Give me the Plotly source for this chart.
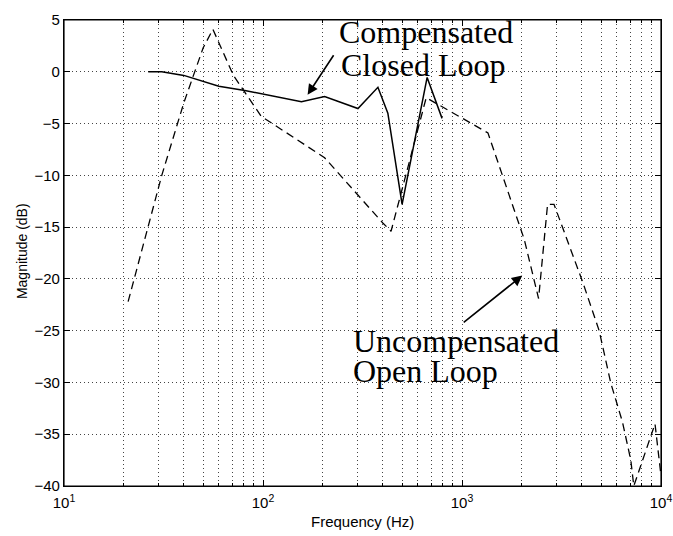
import plotly.graph_objects as go

# Compensated closed loop (solid)
closed_f = [26.5, 31, 40, 60, 81, 156, 204, 300, 378, 424, 500, 668, 794]
closed_db = [0, 0, -0.35, -1.4, -1.8, -2.9, -2.4, -3.55, -1.5, -4.0, -12.8, -0.55, -4.5]

# Uncompensated open loop (dashed)
open_f = [21, 31, 40, 50, 56, 71, 98, 204, 400, 440, 661, 817, 1350, 2056, 2426,
          2692, 2900, 4040, 4890, 5600, 6400, 7050, 7300, 9330, 10000]
open_db = [-22.2, -10, -3.0, 2.3, 4.1, -0.35, -4.3, -8.3, -14.6, -15.4, -2.5, -3.5, -5.9, -16.2, -21.9,
           -12.8, -12.8, -20.3, -25.0, -30.1, -33.8, -37.5, -40, -34, -39]

x_tickvals = [10, 100, 1000, 10000]
x_ticktext = ["10<sup>1</sup>", "10<sup>2</sup>", "10<sup>3</sup>", "10<sup>4</sup>"]
x_minor = [m * d for d in (10, 100, 1000) for m in range(2, 10)]
y_tickvals = [5, 0, -5, -10, -15, -20, -25, -30, -35, -40]

fig = go.Figure()
fig.add_trace(go.Scatter(x=open_f, y=open_db, mode="lines",
                         line=dict(color="black", width=1.3, dash="8px,5px"),
                         showlegend=False))
fig.add_trace(go.Scatter(x=closed_f, y=closed_db, mode="lines",
                         line=dict(color="black", width=1.5),
                         showlegend=False))

W, H = 673, 536
L, R, T, B = 64, 11, 12, 50
pw, ph = W - L - R, H - T - B


def px(xp):
    return (xp - L) / pw


def py(yp):
    return (H - B - yp) / ph


serif = dict(family="Liberation Serif, Times New Roman, serif", size=32, color="black")
texts = [("Compensated", 337, 24), ("Closed Loop", 339, 58),
         ("Uncompensated", 351, 339), ("Open Loop", 351, 369)]
for t, xx, yy in texts:
    fig.add_annotation(text=t, x=px(xx), y=py(yy), xref="paper", yref="paper",
                       xanchor="left", yanchor="middle", showarrow=False, font=serif)

# arrows (tail -> head) in pixel positions of the reference
arrows = [((335, 47), (308, 88)), ((463, 320), (523, 272))]
for (tx, ty), (hx, hy) in arrows:
    fig.add_annotation(x=px(hx), y=py(hy), ax=tx - hx, ay=ty - hy, xref="paper", yref="paper",
                       axref="pixel", ayref="pixel", text="", showarrow=True,
                       arrowhead=2, arrowsize=1.3, arrowwidth=1.6, arrowcolor="black")

axis_font = dict(family="Liberation Sans, Arial, Helvetica, sans-serif", size=15, color="black")
# axis titles
fig.add_annotation(text="Frequency (Hz)", x=px(363), y=py(522), xref="paper", yref="paper",
                   xanchor="center", yanchor="middle", showarrow=False,
                   font=dict(family=axis_font["family"], size=15, color="black"))
fig.add_annotation(text="Magnitude (dB)", x=px(22), y=py(247), xref="paper", yref="paper",
                   xanchor="center", yanchor="middle", showarrow=False, textangle=-90,
                   font=dict(family=axis_font["family"], size=14, color="black"))

# plot frame
fig.add_shape(type="rect", xref="paper", yref="paper", x0=0, x1=1, y0=0, y1=1,
              line=dict(color="black", width=1.2), layer="above")

grid = dict(showgrid=True, gridcolor="#444", griddash="1px,3px", gridwidth=1)
fig.update_layout(
    width=W, height=H,
    margin=dict(l=L, r=R, t=T, b=B),
    paper_bgcolor="white", plot_bgcolor="white",
    font=axis_font,
    xaxis=dict(type="log", range=[1, 4], tickvals=x_tickvals, ticktext=x_ticktext,
               ticks="inside", ticklen=6, tickcolor="black", mirror="allticks",
               showline=True, linecolor="black", linewidth=1.2, ticklabelstandoff=3,
               automargin=False, ticklabeloverflow="allow",
               minor=dict(tickmode="array", tickvals=x_minor, ticks="inside", ticklen=3,
                          tickcolor="black", **grid),
               zeroline=False, tickfont=axis_font, **grid),
    yaxis=dict(range=[-40, 5], tickvals=y_tickvals,
               ticks="inside", ticklen=6, tickcolor="black", mirror="allticks",
               showline=True, linecolor="black", linewidth=1.2,
               zeroline=False, tickfont=axis_font, **grid),
)

fig.write_html("out.html")
